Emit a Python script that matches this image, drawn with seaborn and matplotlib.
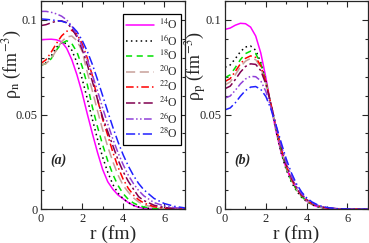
"""Neutron and proton density profiles of oxygen isotopes."""

import matplotlib

matplotlib.use("Agg")
import matplotlib.pyplot as plt
import pandas as pd
import seaborn as sns
from matplotlib.ticker import MultipleLocator

# radial grid (fm)
r = [0.0, 0.25, 0.5, 0.75, 1.0, 1.25, 1.5, 1.75, 2.0, 2.25, 2.5, 2.75, 3.0,
     3.25, 3.5, 3.75, 4.0, 4.25, 4.5, 4.75, 5.0, 5.5, 6.0, 6.5, 7.0]

isotopes = ["14", "16", "18", "20", "22", "24", "26", "28"]

# neutron densities (fm^-3)
rho_n_14 = [0.0895, 0.0897, 0.0898, 0.0895, 0.0885, 0.085, 0.079, 0.071, 0.0615, 0.0505,
            0.040, 0.030, 0.021, 0.0145, 0.0105, 0.0075, 0.0055, 0.0035, 0.002, 0.001,
            0.0005, 0.0001, 0.0, 0.0, 0.0]
rho_n_16 = [0.076, 0.0775, 0.081, 0.0855, 0.088, 0.0875, 0.084, 0.0775, 0.069, 0.0585,
            0.0475, 0.037, 0.0275, 0.0195, 0.013, 0.0085, 0.0055, 0.0035, 0.002, 0.0012,
            0.0007, 0.0002, 0.0001, 0.0, 0.0]
rho_n_18 = [0.076, 0.077, 0.0795, 0.084, 0.0875, 0.089, 0.0875, 0.083, 0.0755, 0.066,
            0.054, 0.0435, 0.034, 0.0255, 0.0183, 0.0125, 0.0082, 0.0052, 0.0033, 0.002,
            0.0012, 0.0004, 0.0001, 0.0, 0.0]
rho_n_20 = [0.076, 0.077, 0.0795, 0.084, 0.0885, 0.091, 0.0915, 0.089, 0.0835, 0.0725,
            0.0625, 0.052, 0.042, 0.033, 0.025, 0.018, 0.0125, 0.009, 0.006, 0.0038,
            0.0024, 0.0009, 0.0003, 0.0001, 0.0]
rho_n_22 = [0.077, 0.079, 0.083, 0.0875, 0.0915, 0.094, 0.0945, 0.0925, 0.0875, 0.080,
            0.0705, 0.058, 0.0475, 0.039, 0.030, 0.0222, 0.0158, 0.011, 0.0075, 0.005,
            0.0033, 0.0013, 0.0005, 0.0002, 0.0001]
rho_n_24 = [0.097, 0.0975, 0.0985, 0.0993, 0.0995, 0.0985, 0.0955, 0.091, 0.0845, 0.0765,
            0.0675, 0.058, 0.0485, 0.041, 0.0335, 0.026, 0.0198, 0.0147, 0.0106, 0.0066,
            0.0046, 0.0021, 0.0009, 0.0004, 0.0002]
rho_n_26 = [0.1045, 0.1045, 0.104, 0.1032, 0.102, 0.100, 0.0968, 0.092, 0.086, 0.079,
            0.071, 0.0625, 0.0535, 0.045, 0.037, 0.0298, 0.0235, 0.018, 0.0135, 0.0099,
            0.0071, 0.0035, 0.0017, 0.0008, 0.0004]
rho_n_28 = [0.1005, 0.1003, 0.100, 0.0997, 0.0993, 0.0985, 0.0968, 0.0938, 0.0893, 0.0835,
            0.0765, 0.0685, 0.060, 0.0515, 0.0432, 0.0355, 0.0287, 0.0228, 0.0178, 0.0136,
            0.0103, 0.0057, 0.003, 0.0015, 0.0007]

# proton densities (fm^-3)
rho_p_14 = [0.095, 0.0957, 0.0972, 0.0982, 0.098, 0.0962, 0.0915, 0.0825, 0.0695, 0.0545,
            0.041, 0.0298, 0.0215, 0.0155, 0.0108, 0.007, 0.0043, 0.0025, 0.0014, 0.0008,
            0.0004, 0.0001, 0.0, 0.0, 0.0]
rho_p_16 = [0.075, 0.0762, 0.0795, 0.0832, 0.0857, 0.0862, 0.084, 0.0775, 0.0675, 0.0545,
            0.0412, 0.0298, 0.0208, 0.0143, 0.0097, 0.0063, 0.004, 0.0024, 0.0014, 0.0008,
            0.0004, 0.0001, 0.0, 0.0, 0.0]
rho_p_18 = [0.0695, 0.071, 0.0748, 0.079, 0.0822, 0.0835, 0.0822, 0.0768, 0.0675, 0.0552,
            0.0422, 0.031, 0.0218, 0.015, 0.0102, 0.0067, 0.0043, 0.0027, 0.0016, 0.0009,
            0.0005, 0.0002, 0.0001, 0.0, 0.0]
rho_p_20 = [0.0657, 0.0672, 0.071, 0.0752, 0.0782, 0.0797, 0.079, 0.0748, 0.0665, 0.0552,
            0.0428, 0.0318, 0.0226, 0.0157, 0.0107, 0.0071, 0.0046, 0.0029, 0.0018, 0.001,
            0.0006, 0.0002, 0.0001, 0.0, 0.0]
rho_p_22 = [0.0675, 0.069, 0.0728, 0.0768, 0.0797, 0.081, 0.0802, 0.0758, 0.0672, 0.0556,
            0.0432, 0.0322, 0.023, 0.016, 0.011, 0.0073, 0.0048, 0.003, 0.0019, 0.0011,
            0.0006, 0.0002, 0.0001, 0.0, 0.0]
rho_p_24 = [0.0637, 0.065, 0.0685, 0.0724, 0.0754, 0.0768, 0.0765, 0.0732, 0.066, 0.0556,
            0.0438, 0.0328, 0.0236, 0.0166, 0.0114, 0.0077, 0.0051, 0.0033, 0.002, 0.0012,
            0.0007, 0.0002, 0.0001, 0.0, 0.0]
rho_p_26 = [0.0587, 0.0598, 0.0628, 0.0662, 0.0688, 0.0702, 0.070, 0.0678, 0.0622, 0.0538,
            0.0436, 0.0335, 0.0246, 0.0175, 0.0121, 0.0082, 0.0054, 0.0035, 0.0022, 0.0013,
            0.0008, 0.0003, 0.0001, 0.0, 0.0]
rho_p_28 = [0.0525, 0.0535, 0.0562, 0.0597, 0.0627, 0.0645, 0.0648, 0.0633, 0.0595, 0.0528,
            0.0443, 0.0352, 0.0265, 0.0192, 0.0134, 0.0091, 0.006, 0.0039, 0.0025, 0.0015,
            0.0009, 0.0003, 0.0001, 0.0, 0.0]

rho_n = [rho_n_14, rho_n_16, rho_n_18, rho_n_20, rho_n_22, rho_n_24, rho_n_26, rho_n_28]
rho_p = [rho_p_14, rho_p_16, rho_p_18, rho_p_20, rho_p_22, rho_p_24, rho_p_26, rho_p_28]

colors = ["#ff00ff", "#000000", "#00e000", "#c8a09a", "#ff0000", "#800050", "#9040d8", "#2020ff"]
styles = [
    "-",
    (0, (1, 2.2)),
    (0, (4, 3)),
    (0, (6, 3)),
    (0, (5, 2, 1, 2)),
    (0, (6, 2, 1.5, 2)),
    (0, (5, 1.6, 1, 1.6, 1, 1.6)),
    (0, (6, 2, 1, 2)),
]

sns.set_style("ticks")
plt.rcParams["font.family"] = ["Liberation Serif", "DejaVu Serif"]
plt.rcParams["mathtext.fontset"] = "stix"

fig = plt.figure(figsize=(3.69, 2.43), dpi=100)
ax_n = fig.add_axes([0.111, 0.139, 0.390, 0.857])
ax_p = fig.add_axes([0.610, 0.139, 0.387, 0.857])

for ax, series, sub, tag in [(ax_n, rho_n, "n", "(a)"), (ax_p, rho_p, "p", "(b)")]:
    for iso, vals, col, ls in zip(isotopes, series, colors, styles):
        df = pd.DataFrame({"r": r, "rho": vals})
        kw = {"label": rf"$^{{{iso}}}$O"} if ax is ax_n else {}
        sns.lineplot(data=df, x="r", y="rho", ax=ax, color=col, linestyle=ls,
                     linewidth=1.1, legend=False, **kw)
    ax.set_xlim(0, 7)
    ax.set_ylim(0, 0.11)
    ax.xaxis.set_major_locator(MultipleLocator(2))
    ax.xaxis.set_minor_locator(MultipleLocator(1))
    ax.yaxis.set_major_locator(MultipleLocator(0.05))
    ax.yaxis.set_minor_locator(MultipleLocator(0.01))
    ax.set_yticks([0, 0.05, 0.1])
    ax.set_yticklabels(["0", "0.05", "0.1"])
    ax.tick_params(which="both", direction="in", top=True, right=True, labelsize=9,
                   width=0.8, pad=2.5)
    ax.tick_params(which="major", length=4)
    ax.tick_params(which="minor", length=2)
    for s in ax.spines.values():
        s.set_linewidth(0.9)
    ax.set_xlabel("r (fm)", fontsize=14, labelpad=0)
    ax.set_ylabel(f"ρ$_{{\\rm {sub}}}$ (fm$^{{-3}}$)", fontsize=13)
    ax.text(0.45, 0.024, tag, fontsize=10, fontweight="bold", fontstyle="italic")

ax_n.yaxis.set_label_coords(-0.115, 0.70)
ax_p.yaxis.set_label_coords(-0.11, 0.69)

leg = ax_n.legend(loc="upper right", bbox_to_anchor=(0.975, 0.938), borderaxespad=0,
                  fontsize=8.5, handlelength=2.3, labelspacing=0.1, handletextpad=0.45,
                  borderpad=0.3, fancybox=False, framealpha=1, edgecolor="black")
leg.get_frame().set_linewidth(0.9)

fig.savefig("out.png", dpi=100)
plt.close(fig)
